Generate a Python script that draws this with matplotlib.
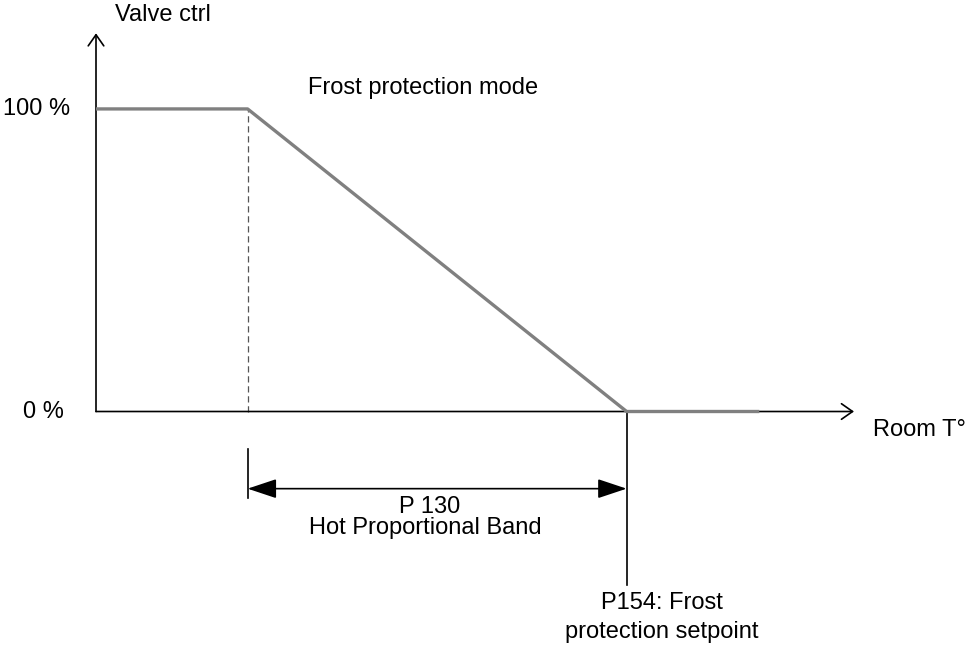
import matplotlib
matplotlib.use('Agg')
import matplotlib.pyplot as plt

# valve control curve (room temperature in arbitrary units, valve in %)
room_t = [0, 2, 7, 8.75]
valve = [100, 100, 0, 0]

band_start = 2      # start of proportional band
setpoint = 7        # P154 frost protection setpoint
x_axis_end = 10
y_axis_end = 125

y_ticks = [0, 100]
y_tick_labels = ['0 %', '100 %']
y_label_x = [-0.42, -0.34]

plt.rcParams['font.family'] = ['Liberation Sans', 'DejaVu Sans']

fig = plt.figure(figsize=(9.7, 6.46), dpi=100)
ax = fig.add_axes([0, 0, 1, 1])
ax.set_xlim(-1.2665, 11.53)
ax.set_ylim(-77.5, 136.0)
ax.axis('off')

fs = 17

# axes with open arrow heads
axis_arrow = dict(arrowstyle='->,head_length=0.4,head_width=0.28', color='black',
                  lw=1.2, shrinkA=0, shrinkB=0, mutation_scale=20)
ax.annotate('', xy=(x_axis_end, 0), xytext=(0, 0), arrowprops=axis_arrow)
ax.annotate('', xy=(0, y_axis_end), xytext=(0, 0), arrowprops=axis_arrow)

# valve curve
ax.plot(room_t, valve, color='#808080', lw=2.4, solid_capstyle='butt', zorder=3)

# dashed guide at start of band
ax.plot([band_start, band_start], [0, 100], color='#555555', lw=0.9, ls=(0, (5, 3)))

# dimension lines
ax.plot([band_start, band_start], [-12.4, -28.6], color='black', lw=1.2)
ax.plot([setpoint, setpoint], [0, -57.4], color='black', lw=1.2)
ax.annotate('', xy=(setpoint, -25.5), xytext=(band_start, -25.5),
            arrowprops=dict(arrowstyle='<|-|>,head_length=0.9,head_width=0.3',
                            color='black', lw=1.2, shrinkA=0, shrinkB=0,
                            mutation_scale=20))

# labels
for v, lab, lx in zip(y_ticks, y_tick_labels, y_label_x):
    ax.text(lx, v, lab, ha='right', va='center', fontsize=fs)

ax.text(0.25, 131.2, 'Valve ctrl', ha='left', va='center', fontsize=fs)
ax.text(10.25, -6.1, 'Room T°', ha='left', va='center', fontsize=fs)
ax.text(2.8, 107, 'Frost protection mode', ha='left', va='center', fontsize=fs)
ax.text(4.4, -31.6, 'P 130', ha='center', va='center', fontsize=fs)
ax.text(4.35, -38.6, 'Hot Proportional Band', ha='center', va='center', fontsize=fs)
ax.text(7.47, -63.3, 'P154: Frost', ha='center', va='center', fontsize=fs)
ax.text(7.47, -72.9, 'protection setpoint', ha='center', va='center', fontsize=fs)

fig.savefig('out.png', dpi=100)
